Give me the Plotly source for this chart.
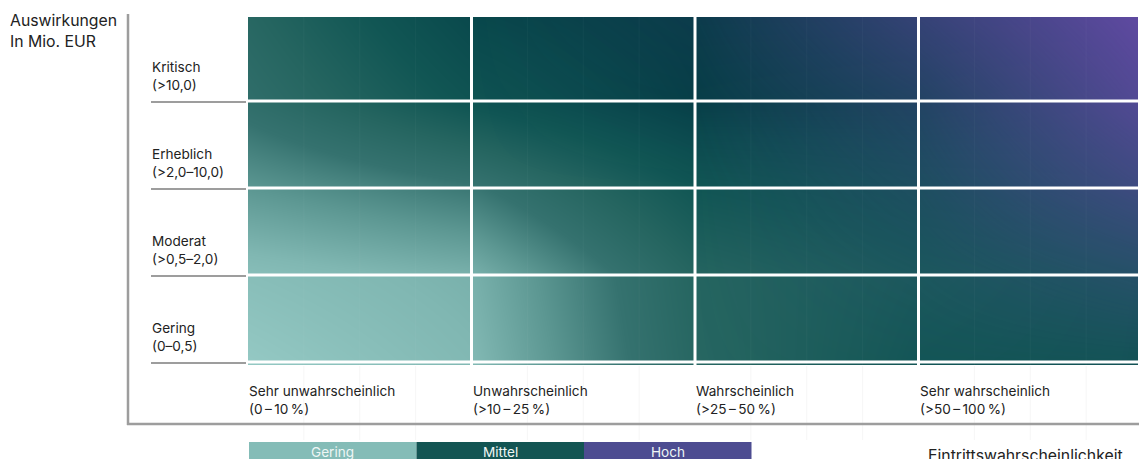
import plotly.graph_objects as go

# ---------------- data ----------------
TS = "\u2009"  # thin space
impact_labels = ["Gering<br>(0–0,5)", "Moderat<br>(>0,5–2,0)",
                 "Erheblich<br>(>2,0–10,0)", "Kritisch<br>(>10,0)"]
likelihood_labels = [f"Sehr unwahrscheinlich<br>(0{TS}–{TS}10{TS}%)",
                     f"Unwahrscheinlich<br>(>10{TS}–{TS}25{TS}%)",
                     f"Wahrscheinlich<br>(>25{TS}–{TS}50{TS}%)",
                     f"Sehr wahrscheinlich<br>(>50{TS}–{TS}100{TS}%)"]
risk_levels = ["Gering", "Mittel", "Hoch"]
risk_colors = ["#84bcb7", "#135553", "#4d4c91"]

# risk score read at grid corners (rows: bottom -> top, cols: left -> right)
grid_x = [0, 1, 2, 3, 4]
grid_y = [0, 1, 2, 3, 4]
teal_score = [
    [0.02, 0.14, 0.58, 0.75, 0.78],
    [0.10, 0.18, 0.60, 0.72, 0.78],
    [0.30, 0.43, 0.75, 0.82, 0.85],
    [0.50, 0.78, 0.97, 0.95, 0.90],
    [0.58, 0.90, 1.00, 1.00, 1.00],
]
purple_score = [
    [0.00, 0.00, 0.00, 0.03, 0.05],
    [0.00, 0.00, 0.00, 0.10, 0.28],
    [0.00, 0.00, 0.00, 0.20, 0.60],
    [0.00, 0.00, 0.03, 0.32, 0.85],
    [0.00, 0.00, 0.10, 0.55, 1.00],
]

teal_scale = [
    [0.00, "#97cbc6"], [0.15, "#80b7b2"], [0.30, "#5c9792"],
    [0.45, "#35726f"], [0.60, "#256560"], [0.75, "#115654"],
    [0.88, "#0a4a4d"], [1.00, "#033a42"],
]
purple_scale = [[0.0, "rgba(96,74,162,0)"], [1.0, "rgba(96,74,162,1)"]]

FONT = "Inter"
TXT = "#222222"
GREY = "#9d9d9d"

fig = go.Figure()
fig.add_trace(go.Heatmap(x=grid_x, y=grid_y, z=teal_score, colorscale=teal_scale,
                         zmin=0, zmax=1, zsmooth="best", showscale=False,
                         hoverinfo="skip"))
fig.add_trace(go.Heatmap(x=grid_x, y=grid_y, z=purple_score, colorscale=purple_scale,
                         zmin=0, zmax=1, zsmooth="best", showscale=False,
                         hoverinfo="skip"))

W, H = 1139, 459
L, T, R, B = 248, 17, 1, 94
pw, ph = W - L - R, H - T - B
UNIT = 223.5


def px_x(p):
    return (p - L) / pw


def px_y(p):
    return (H - B - p) / ph


shapes = []
n_rows = len(impact_labels)
n_cols = len(likelihood_labels)

# faint quarter grid
for k in range(1, n_cols * 4):
    if k % 4:
        shapes.append(dict(type="line", xref="x", yref="paper", x0=k / 4, x1=k / 4,
                           y0=0, y1=1, line=dict(color="rgba(255,255,255,0.035)", width=1)))
        shapes.append(dict(type="line", xref="x", yref="paper", x0=k / 4, x1=k / 4,
                           y0=px_y(366), y1=px_y(440), line=dict(color="#f6f6f6", width=1),
                           layer="below"))

# white cell separators
for i in range(1, n_cols):
    shapes.append(dict(type="line", xref="x", yref="paper", x0=i, x1=i, y0=0, y1=1,
                       line=dict(color="white", width=3)))
for j in range(0, n_rows):
    shapes.append(dict(type="line", xref="paper", yref="y", x0=0, x1=1, y0=j, y1=j,
                       line=dict(color="white", width=3)))

# grey row separators on the left
for j in range(0, n_rows):
    shapes.append(dict(type="line", xref="paper", yref="y", x0=px_x(151), x1=px_x(246),
                       y0=j - 0.012, y1=j - 0.012, line=dict(color=GREY, width=2)))

# axis lines
shapes.append(dict(type="line", xref="paper", yref="paper", x0=px_x(128), x1=px_x(128),
                   y0=px_y(14), y1=px_y(425), line=dict(color=GREY, width=2.5)))
shapes.append(dict(type="line", xref="paper", yref="paper", x0=px_x(127), x1=1.01,
                   y0=px_y(424), y1=px_y(424), line=dict(color=GREY, width=2.5)))

annotations = []
# legend bars
seg = 167.5
for k, (lab, col) in enumerate(zip(risk_levels, risk_colors)):
    x0 = px_x(249 + k * seg)
    x1 = px_x(249 + (k + 1) * seg)
    shapes.append(dict(type="rect", xref="paper", yref="paper", x0=x0, x1=x1,
                       y0=px_y(442), y1=px_y(470), fillcolor=col, line=dict(width=0)))
    annotations.append(dict(xref="paper", yref="paper", x=(x0 + x1) / 2, y=px_y(452),
                            text=lab, showarrow=False, xanchor="center", yanchor="middle",
                            font=dict(family=FONT, size=13.6, color="#eef6f5")))

# row labels
for j, lab in enumerate(impact_labels):
    annotations.append(dict(xref="paper", yref="y", x=px_x(150), y=j, yshift=6,
                            text=lab, showarrow=False, xanchor="left", yanchor="bottom",
                            align="left",
                            font=dict(family=FONT, size=13.6, color=TXT)))
# column labels
for i, lab in enumerate(likelihood_labels):
    annotations.append(dict(xref="x", yref="paper", x=i, xshift=-1, y=px_y(400),
                            text=lab, showarrow=False, xanchor="left", yanchor="middle",
                            align="left",
                            font=dict(family=FONT, size=13.6, color=TXT)))

annotations.append(dict(xref="paper", yref="paper", x=px_x(8), y=px_y(31),
                        text="Auswirkungen<br>In Mio. EUR", showarrow=False,
                        xanchor="left", yanchor="middle", align="left",
                        font=dict(family=FONT, size=15.8, color=TXT)))
annotations.append(dict(xref="paper", yref="paper", x=px_x(926), y=px_y(455),
                        text="Eintrittswahrscheinlichkeit", showarrow=False,
                        xanchor="left", yanchor="middle", align="left",
                        font=dict(family=FONT, size=15.8, color=TXT)))

fig.update_layout(
    width=W, height=H,
    margin=dict(l=L, r=R, t=T, b=B),
    paper_bgcolor="white", plot_bgcolor="white",
    xaxis=dict(range=[0, pw / UNIT], visible=False, fixedrange=True),
    yaxis=dict(range=[-3 / 87, (ph - 3) / 87], visible=False, fixedrange=True),
    shapes=shapes, annotations=annotations, showlegend=False,
)

fig.write_html("out.html", config={"displayModeBar": False},
               post_script="document.body.style.margin='0';")
